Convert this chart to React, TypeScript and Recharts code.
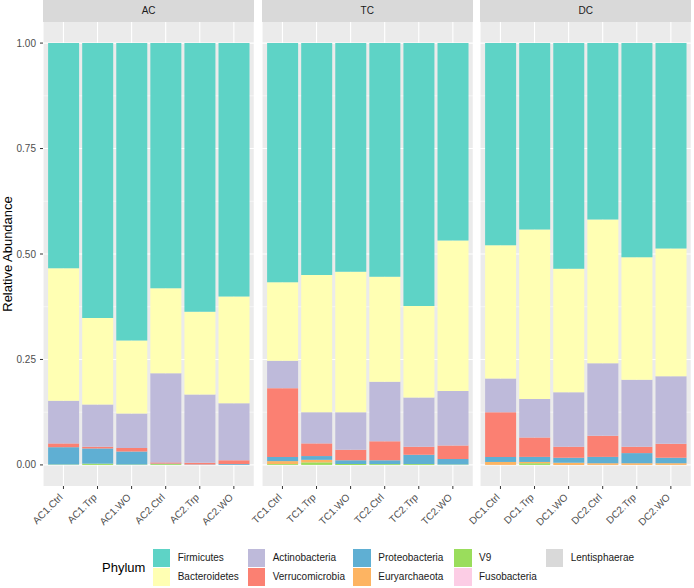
import { Bar, BarChart, CartesianGrid, XAxis, YAxis } from 'recharts';

const facets = ['AC', 'TC', 'DC'];
const samples = [
  'AC1.Ctrl', 'AC1.Trp', 'AC1.WO', 'AC2.Ctrl', 'AC2.Trp', 'AC2.WO',
  'TC1.Ctrl', 'TC1.Trp', 'TC1.WO', 'TC2.Ctrl', 'TC2.Trp', 'TC2.WO',
  'DC1.Ctrl', 'DC1.Trp', 'DC1.WO', 'DC2.Ctrl', 'DC2.Trp', 'DC2.WO',
];

// relative abundance per sample, same order as samples
const firmicutes = [0.534, 0.652, 0.705, 0.581, 0.637, 0.601, 0.567, 0.55, 0.542, 0.554, 0.623, 0.468, 0.479, 0.442, 0.535, 0.418, 0.508, 0.487];
const bacteroidetes = [0.314, 0.205, 0.173, 0.202, 0.196, 0.253, 0.186, 0.325, 0.333, 0.249, 0.217, 0.357, 0.316, 0.402, 0.293, 0.341, 0.29, 0.303];
const actinobacteria = [0.101, 0.1, 0.082, 0.211, 0.162, 0.135, 0.065, 0.074, 0.089, 0.141, 0.117, 0.129, 0.08, 0.091, 0.129, 0.172, 0.159, 0.16];
const verrucomicrobia = [0.009, 0.004, 0.008, 0.003, 0.004, 0.009, 0.163, 0.03, 0.025, 0.045, 0.019, 0.032, 0.106, 0.046, 0.026, 0.05, 0.015, 0.033];
const proteobacteria = [0.041, 0.036, 0.031, 0.001, 0.001, 0.002, 0.01, 0.009, 0.009, 0.009, 0.022, 0.013, 0.012, 0.012, 0.012, 0.015, 0.024, 0.013];
const euryarchaeota = [0, 0, 0, 0, 0, 0, 0.007, 0.006, 0, 0, 0, 0, 0.007, 0.003, 0.005, 0.004, 0.004, 0.004];
const v9 = [0.001, 0.003, 0.001, 0.002, 0, 0, 0.002, 0.006, 0.002, 0.002, 0.002, 0.001, 0, 0.004, 0, 0, 0, 0];
const fusobacteria = [0, 0, 0, 0, 0, 0, 0, 0, 0, 0, 0, 0, 0, 0, 0, 0, 0, 0];
const lentisphaerae = [0, 0, 0, 0, 0, 0, 0, 0, 0, 0, 0, 0, 0, 0, 0, 0, 0, 0];

const yTicks = [0, 0.25, 0.5, 0.75, 1];
const yMinor = [0.125, 0.375, 0.625, 0.875];

// legend order (ggplot stacks the first one on top)
const phyla = [
  { name: 'Firmicutes', values: firmicutes, color: '#5ED3C6' },
  { name: 'Bacteroidetes', values: bacteroidetes, color: '#FFFFB3' },
  { name: 'Actinobacteria', values: actinobacteria, color: '#BEBADA' },
  { name: 'Verrucomicrobia', values: verrucomicrobia, color: '#FB8072' },
  { name: 'Proteobacteria', values: proteobacteria, color: '#5FAFD3' },
  { name: 'Euryarchaeota', values: euryarchaeota, color: '#FDB462' },
  { name: 'V9', values: v9, color: '#9ADD5C' },
  { name: 'Fusobacteria', values: fusobacteria, color: '#FCCDE5' },
  { name: 'Lentisphaerae', values: lentisphaerae, color: '#D9D9D9' },
];

const PANEL_W = 211.3;
const PANEL_GAP = 7.3;
const Y_AXIS_W = 43;
const PLOT_TOP = 22;
const CHART_H = 540;
const PLOT_BOTTOM = 486;
const unit = PANEL_W / 6.2;

function SampleTick({ x, y, payload }: any) {
  const ty = y + 7;
  return (
    <text
      x={x}
      y={ty}
      textAnchor="end"
      fontSize={10}
      fill="#4D4D4D"
      transform={`rotate(-45 ${x} ${ty})`}
    >
      {payload.value}
    </text>
  );
}

function facetRows(f: number) {
  return samples.slice(f * 6, f * 6 + 6).map((s, j) => {
    const row: any = { sample: s };
    phyla.forEach((p) => {
      row[p.name] = p.values[f * 6 + j];
    });
    return row;
  });
}

function Facet({ index }: { index: number }) {
  const first = index === 0;
  const panelLeft = Y_AXIS_W + index * (PANEL_W + PANEL_GAP);
  // extra room on the left so rotated tick labels are not clipped
  const room = first ? 0 : 45;
  const left = first ? 0 : panelLeft - room;
  const width = first ? Y_AXIS_W + PANEL_W : PANEL_W + room;
  const rows = facetRows(index);
  const stackOrder = [...phyla].reverse();

  return (
    <>
      <div
        style={{
          position: 'absolute',
          left: panelLeft,
          top: 0,
          width: PANEL_W,
          height: PLOT_TOP,
          background: '#D9D9D9',
          color: '#1A1A1A',
          fontSize: 10,
          lineHeight: `${PLOT_TOP}px`,
          textAlign: 'center',
        }}
      >
        {facets[index]}
      </div>
      <div style={{ position: 'absolute', left, top: 0 }}>
        <BarChart
          width={width}
          height={CHART_H}
          data={rows}
          barCategoryGap="5%"
          margin={{ top: PLOT_TOP, right: 0, left: room, bottom: CHART_H - PLOT_BOTTOM - 50 }}
        >
          <CartesianGrid
            fill="#EBEBEB"
            stroke="#FFFFFF"
            strokeWidth={0.55}
            vertical={false}
            horizontalValues={yMinor}
          />
          <CartesianGrid
            stroke="#FFFFFF"
            strokeWidth={1.1}
            horizontalValues={yTicks}
          />
          <XAxis
            dataKey="sample"
            interval={0}
            height={50}
            axisLine={false}
            tickLine={{ stroke: '#333333' }}
            tickSize={3}
            tickMargin={2}
            padding={{ left: unit * 0.1, right: unit * 0.1 }}
            tick={<SampleTick />}
          />
          <YAxis
            type="number"
            domain={[-0.05, 1.05]}
            ticks={yTicks}
            hide={!first}
            width={Y_AXIS_W}
            axisLine={false}
            tickLine={{ stroke: '#333333' }}
            tickSize={3}
            tickMargin={4}
            tick={{ fill: '#4D4D4D', fontSize: 10 }}
            tickFormatter={(v: number) => v.toFixed(2)}
            label={
              first
                ? {
                    value: 'Relative Abundance',
                    angle: -90,
                    position: 'insideLeft',
                    offset: 7,
                    style: { textAnchor: 'middle', fill: '#000', fontSize: 13 },
                  }
                : undefined
            }
          />
          {stackOrder.map((p) => (
            <Bar
              key={p.name}
              dataKey={p.name}
              stackId="a"
              fill={p.color}
              isAnimationActive={false}
            />
          ))}
        </BarChart>
      </div>
    </>
  );
}

const legendCols = [152.7, 247.7, 353.3, 454, 545.7];

function PhylumLegend() {
  return (
    <>
      <div
        style={{
          position: 'absolute',
          left: 102,
          top: 559,
          fontSize: 13,
          lineHeight: '17px',
          color: '#000',
        }}
      >
        Phylum
      </div>
      {phyla.map((p, i) => {
        const col = Math.floor(i / 2);
        const row = i % 2;
        const x = legendCols[col];
        const y = 549 + row * 19;
        return (
          <div key={p.name}>
            <div
              style={{
                position: 'absolute',
                left: x,
                top: y,
                width: 17.5,
                height: 17.5,
                background: p.color,
              }}
            />
            <div
              style={{
                position: 'absolute',
                left: x + 25,
                top: y,
                fontSize: 10,
                lineHeight: '17.5px',
                color: '#1A1A1A',
                whiteSpace: 'nowrap',
              }}
            >
              {p.name}
            </div>
          </div>
        );
      })}
    </>
  );
}

export default function App() {
  return (
    <div
      style={{
        position: 'absolute',
        left: 0,
        top: 0,
        width: 694,
        height: 588,
        background: '#FFFFFF',
        fontFamily: '"Liberation Sans", Arial, sans-serif',
        overflow: 'hidden',
      }}
    >
      {facets.map((f, i) => (
        <Facet key={f} index={i} />
      ))}
      <PhylumLegend />
    </div>
  );
}
